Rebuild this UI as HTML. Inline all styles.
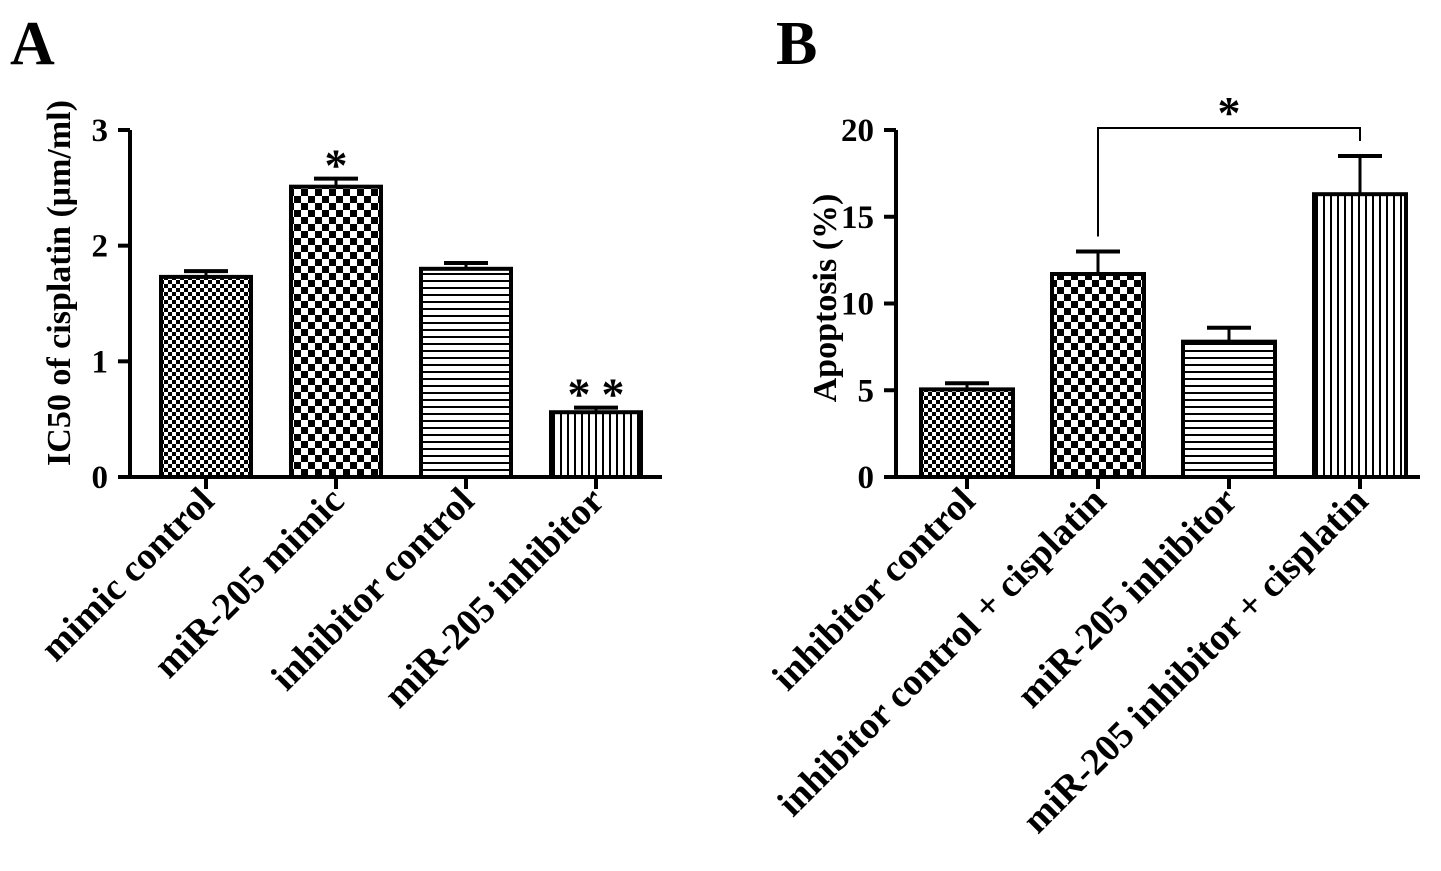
<!DOCTYPE html>
<html><head><meta charset="utf-8"><style>
body{margin:0;background:#fff;width:1441px;height:866px;overflow:hidden}
text{font-family:"Liberation Serif",serif;font-weight:bold;fill:#000}
</style></head><body>
<svg id="chart" width="1441" height="866" xmlns="http://www.w3.org/2000/svg">
<defs>
<pattern id="p0" width="8" height="8" patternUnits="userSpaceOnUse"><rect width="8" height="8" fill="#fff"/><rect width="4" height="4" fill="#000"/><rect x="4" y="4" width="4" height="4" fill="#000"/></pattern>
<pattern id="p1" width="14" height="14" patternUnits="userSpaceOnUse"><rect width="14" height="14" fill="#fff"/><rect width="7" height="7" fill="#000"/><rect x="7" y="7" width="7" height="7" fill="#000"/></pattern>
<pattern id="p2" width="7" height="7" patternUnits="userSpaceOnUse"><rect width="7" height="7" fill="#fff"/><rect width="7" height="2" fill="#000"/></pattern>
<pattern id="p3" width="7" height="7" patternUnits="userSpaceOnUse"><rect width="7" height="7" fill="#fff"/><rect width="2" height="7" fill="#000"/></pattern>
</defs>
<g id="gA"></g><g id="gB"></g>
</svg>
<script>
const catsA=["mimic control","miR-205 mimic","inhibitor control","miR-205 inhibitor"];
const valsA=[1.73,2.51,1.80,0.56];
const errA=[0.05,0.07,0.05,0.04];
const sigA=[0,1,0,2];
const ticksA=[0,1,2,3];
const catsB=["inhibitor control","inhibitor control + cisplatin","miR-205 inhibitor","miR-205 inhibitor + cisplatin"];
const valsB=[5.05,11.7,7.8,16.3];
const errB=[0.35,1.3,0.8,2.2];
const ticksB=[0,5,10,15,20];
const NS="http://www.w3.org/2000/svg";
function mk(p,tag,a,txt){const e=document.createElementNS(NS,tag);for(const k in a)e.setAttribute(k,a[k]);if(txt!==undefined)e.textContent=txt;p.appendChild(e);return e;}
function panel(g,o){
  const y=v=>o.y0-(v/o.max)*(o.y0-o.yTop);
  const xc=i=>o.x1+o.bw/2+i*o.step;
  let e=mk(g,"text",{x:o.lx,y:64,"font-size":"62"},o.letter);
  
  
  e=mk(g,"line",{x1:o.ax,y1:o.yTop,x2:o.ax,y2:o.y0+2,stroke:"#000","stroke-width":4});
  
  
  e=mk(g,"line",{x1:o.ax-2,y1:o.y0,x2:o.axEnd,y2:o.y0,stroke:"#000","stroke-width":4});
  
  
  o.ticks.forEach(t=>{
    e=mk(g,"line",{x1:o.ax-12,y1:y(t),x2:o.ax,y2:y(t),stroke:"#000","stroke-width":4});
    
    
    e=mk(g,"text",{x:o.ax-22,y:y(t)+11,"font-size":"33","text-anchor":"end"},String(t));
    
    
  });
  e=mk(g,"text",{transform:`translate(${o.ax-60},${o.titleY}) rotate(-90)`,"font-size":"34","text-anchor":"middle"},o.title);
  
  
  o.vals.forEach((v,i)=>{
    const x=xc(i);
    e=mk(g,"line",{x1:x,y1:y(v+o.err[i]),x2:x,y2:y(v),stroke:"#000","stroke-width":3});
    
    
    e=mk(g,"line",{x1:x-22,y1:y(v+o.err[i]),x2:x+22,y2:y(v+o.err[i]),stroke:"#000","stroke-width":4});
    
    
    e=mk(g,"rect",{x:x-o.bw/2,y:y(v),width:o.bw,height:o.y0-y(v),fill:`url(#p${i})`,stroke:"#000","stroke-width":4});
    
    
    e=mk(g,"line",{x1:x,y1:o.y0,x2:x,y2:o.y0+12,stroke:"#000","stroke-width":4});
    
    
    e=mk(g,"text",{transform:`translate(${x+10},${o.y0+26}) rotate(-45)`,"font-size":"38","text-anchor":"end"},o.cats[i]);
    
    
    const n=o.sig?o.sig[i]:0;
    for(let k=0;k<n;k++){
      const sx=x+(k-(n-1)/2)*34;
      e=mk(g,"text",{x:sx,y:y(v+o.err[i])+2,"font-size":"46","text-anchor":"middle","font-family":"Liberation Sans","font-weight":"normal"},"*");
      
      
    }
  });
  return {y,xc};
}
const gA=document.getElementById("gA"),gB=document.getElementById("gB");
panel(gA,{letter:"A",lx:10,ax:130,axEnd:662,y0:477,yTop:130,max:3,x1:161,bw:90,step:130,vals:valsA,err:errA,cats:catsA,ticks:ticksA,sig:sigA,title:"IC50 of cisplatin (μm/ml)",titleY:283});
const B=panel(gB,{letter:"B",lx:776,ax:896,axEnd:1420,y0:477,yTop:130,max:20,x1:921,bw:92,step:131,vals:valsB,err:errB,cats:catsB,ticks:ticksB,title:"Apoptosis (%)",titleY:298});
const bx1=B.xc(1),bx2=B.xc(3),by=128;
let e=mk(gB,"path",{d:`M${bx1},${B.y(13.0)-15} V${by} H${bx2} V${B.y(18.5)-15}`,fill:"none",stroke:"#000","stroke-width":2});


e=mk(gB,"text",{x:(bx1+bx2)/2,y:128,"font-size":"46","text-anchor":"middle","font-family":"Liberation Sans","font-weight":"normal"},"*");


</script>
</body></html>
